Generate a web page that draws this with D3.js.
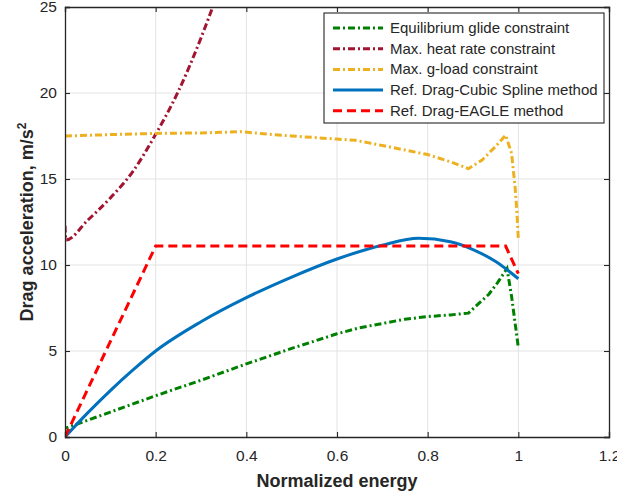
<!DOCTYPE html>
<html>
<head>
<meta charset="utf-8">
<script src="https://cdn.jsdelivr.net/npm/d3@7"></script>
<style>
  body { margin: 0; background: #fff; }
  text { font-family: "Liberation Sans", Arial, sans-serif; fill: #262626; }
</style>
</head>
<body>
<svg id="chart" width="617" height="498"></svg>
<script>
// Drag acceleration profiles vs. normalized energy
var xTicks = [0, 0.2, 0.4, 0.6, 0.8, 1, 1.2];
var yTicks = [0, 5, 10, 15, 20, 25];

var eqGlideE = [0, 0, 0.1, 0.2, 0.3, 0.4, 0.5, 0.6, 0.65, 0.7, 0.75, 0.8, 0.85, 0.89, 0.91, 0.935, 0.955, 0.97, 0.975, 0.985, 0.993, 1.0];
var eqGlideD = [0.3, 0.5, 1.45, 2.4, 3.3, 4.25, 5.15, 6.0, 6.35, 6.6, 6.85, 7.0, 7.1, 7.2, 7.7, 8.3, 9.0, 9.6, 9.8, 8.2, 6.6, 5.2];

var heatE = [0, 0.002, 0.05, 0.1, 0.15, 0.2, 0.25, 0.3, 0.33];
var heatD = [12.3, 11.45, 12.6, 13.9, 15.45, 17.6, 20.1, 23.2, 25.3];

var gloadE = [0, 0.1, 0.2, 0.3, 0.39, 0.45, 0.5, 0.6, 0.64, 0.7, 0.8, 0.85, 0.89, 0.92, 0.95, 0.972, 0.985, 0.993, 0.997, 1.0];
var gloadD = [17.5, 17.58, 17.65, 17.68, 17.75, 17.6, 17.5, 17.32, 17.25, 16.95, 16.42, 16.0, 15.6, 16.1, 16.9, 17.55, 16.5, 14.5, 13.0, 11.5];

var splineE = [0, 0.05, 0.1, 0.15, 0.2, 0.3, 0.4, 0.5, 0.6, 0.7, 0.78, 0.85, 0.9, 0.95, 1.0];
var splineD = [0, 1.4, 2.7, 3.9, 5.0, 6.7, 8.1, 9.3, 10.35, 11.15, 11.55, 11.35, 10.9, 10.2, 9.2];

var eagleE = [0, 0.2, 0.972, 1.0];
var eagleD = [0, 11.1, 11.1, 9.5];

var series = [
  { name: "Equilibrium glide constraint", e: eqGlideE, d: eqGlideD, color: "#008000", dash: "7,3,2,3", width: 3 },
  { name: "Max. heat rate constraint", e: heatE, d: heatD, color: "#A2142F", dash: "7,3,2,3", width: 3, smooth: true },
  { name: "Max. g-load constraint", e: gloadE, d: gloadD, color: "#EDB120", dash: "7,3,2,3", width: 3 },
  { name: "Ref. Drag-Cubic Spline method", e: splineE, d: splineD, color: "#0072BD", dash: null, width: 3, smooth: true },
  { name: "Ref. Drag-EAGLE method", e: eagleE, d: eagleD, color: "#FF0000", dash: "9,5", width: 3 }
];

var margin = { left: 65, top: 7, right: 8, bottom: 61 };
var svg = d3.select("#chart");
var W = +svg.attr("width"), H = +svg.attr("height");
var w = W - margin.left - margin.right, h = H - margin.top - margin.bottom;

var x = d3.scaleLinear().domain([0, 1.2]).range([0, w]);
var y = d3.scaleLinear().domain([0, 25]).range([h, 0]);

var g = svg.append("g").attr("transform", "translate(" + margin.left + "," + margin.top + ")");

// grid
g.append("g").selectAll("line").data(xTicks.slice(1, -1)).enter().append("line")
  .attr("x1", d => x(d)).attr("x2", d => x(d)).attr("y1", 0).attr("y2", h)
  .attr("stroke", "#e3e3e3").attr("stroke-width", 1);
g.append("g").selectAll("line").data(yTicks.slice(1, -1)).enter().append("line")
  .attr("y1", d => y(d)).attr("y2", d => y(d)).attr("x1", 0).attr("x2", w)
  .attr("stroke", "#e3e3e3").attr("stroke-width", 1);

// curves
g.append("clipPath").attr("id", "plot-clip").append("rect")
  .attr("width", w).attr("height", h);

var curves = g.append("g").attr("clip-path", "url(#plot-clip)");
series.forEach(function (s) {
  var pts = s.e.map(function (e, i) { return [e, s.d[i]]; });
  var line = d3.line().x(p => x(p[0])).y(p => y(p[1]))
    .curve(s.smooth ? d3.curveMonotoneX : d3.curveLinear);
  curves.append("path").datum(pts)
    .attr("d", line)
    .attr("fill", "none")
    .attr("stroke", s.color)
    .attr("stroke-width", s.width)
    .attr("stroke-dasharray", s.dash);
});

// axes: ticks inside, mirrored on top/right
var axisColor = "#262626";
var xAxis = d3.axisBottom(x).tickValues(xTicks).tickSize(-5).tickPadding(13)
  .tickFormat(d => d3.format("")(+d.toFixed(1)));
var yAxis = d3.axisLeft(y).tickValues(yTicks).tickSize(-5).tickPadding(8);

var gx = g.append("g").attr("transform", "translate(0," + h + ")").call(xAxis);
var gy = g.append("g").call(yAxis);
g.append("g").call(d3.axisTop(x).tickValues(xTicks).tickSize(-5).tickFormat(""));
g.append("g").attr("transform", "translate(" + w + ",0)")
  .call(d3.axisRight(y).tickValues(yTicks).tickSize(-5).tickFormat(""));

svg.selectAll(".domain").attr("stroke", axisColor).attr("stroke-width", 1.3);
svg.selectAll(".tick line").attr("stroke", axisColor).attr("stroke-width", 1.1);
svg.selectAll(".tick text").attr("font-size", 15.5).attr("fill", "#333")
  .style("font-family", "Liberation Sans, Arial, sans-serif");

// axis labels
svg.append("text")
  .attr("x", margin.left + x(0.6)).attr("y", 487)
  .attr("text-anchor", "middle").attr("font-size", 18).attr("font-weight", "bold")
  .text("Normalized energy");

var yl = svg.append("text")
  .attr("transform", "translate(33," + (margin.top + h / 2) + ") rotate(-90)")
  .attr("text-anchor", "middle").attr("font-size", 18).attr("font-weight", "bold");
yl.append("tspan").text("Drag acceleration, m/s");
yl.append("tspan").attr("dy", -7).attr("font-size", 12).text("2");

// legend
var lg = svg.append("g").attr("transform", "translate(324,13)");
lg.append("rect").attr("width", 280).attr("height", 110)
  .attr("fill", "#fff").attr("stroke", axisColor).attr("stroke-width", 1.1);
series.forEach(function (s, i) {
  var yy = 15 + i * 20.7;
  lg.append("line").attr("x1", 9).attr("x2", 59).attr("y1", yy).attr("y2", yy)
    .attr("stroke", s.color).attr("stroke-width", s.width)
    .attr("stroke-dasharray", s.dash);
  lg.append("text").attr("x", 66).attr("y", yy + 5)
    .attr("font-size", 15).text(s.name);
});
</script>
</body>
</html>
